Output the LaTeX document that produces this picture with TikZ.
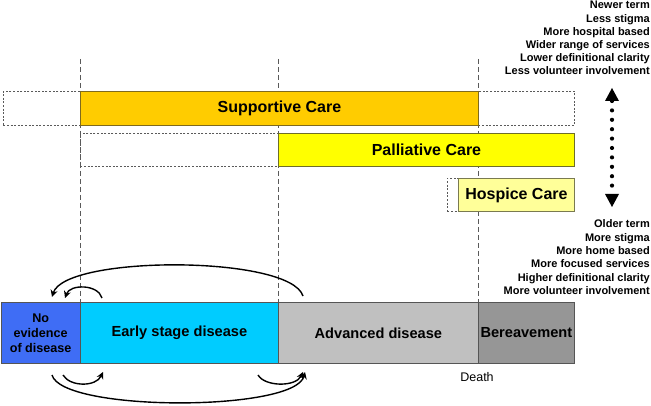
\documentclass[tikz,border=0pt]{standalone}
\usepackage{fontspec}
\setmainfont{Liberation Sans}
\usetikzlibrary{arrows.meta}
\definecolor{supfill}{HTML}{FFCC00}
\definecolor{supline}{HTML}{7F6A1E}
\definecolor{palfill}{HTML}{FFFF00}
\definecolor{palline}{HTML}{6E6E28}
\definecolor{hosfill}{HTML}{FFFF99}
\definecolor{hosline}{HTML}{7A7A50}
\definecolor{noevfill}{HTML}{3F6DF5}
\definecolor{earlyfill}{HTML}{00CCFF}
\definecolor{advfill}{HTML}{C0C0C0}
\definecolor{berfill}{HTML}{969696}
\definecolor{barline}{HTML}{555555}
\definecolor{guide}{HTML}{5A5A5A}
\tikzset{
  carebox/.style={draw=#1, line width=0.9pt, anchor=north west, inner sep=0pt,
    font=\fontsize{16}{18}\selectfont\bfseries},
  ghost/.style={draw=guide, line width=0.9pt, dash pattern=on 2pt off 1.6pt,
    anchor=north west, inner sep=0pt},
  barbox/.style={draw=barline, line width=0.8pt, anchor=north west, inner sep=0pt,
    minimum height=61pt, font=\fontsize{14.6}{16}\selectfont\bfseries},
  vline/.style={draw=guide, line width=0.9pt, dash pattern=on 5pt off 3pt},
  sidetxt/.style={anchor=base east, inner sep=0pt, font=\fontsize{11}{13}\selectfont\bfseries},
  cyc/.style={line width=1.4pt, -{Stealth[length=7pt,width=7pt]}},
  dotarrow/.style={line width=4.2pt, line cap=round, dash pattern=on 0pt off 9.4pt,
    {Triangle[width=14pt,length=13pt,line width=0pt]}-{Triangle[width=14pt,length=13pt,line width=0pt]}}
}
\begin{document}
\begin{tikzpicture}[x=1pt,y={(0pt,-1pt)}]
\useasboundingbox (0,0) rectangle (651,406);

% vertical guide lines
\coordinate (g1) at (80,59);
\coordinate (g2) at (278,59);
\coordinate (g3) at (478,59);
\coordinate (g1b) at (80,302);
\coordinate (g2b) at (278,302);
\coordinate (g3b) at (478,302);
\draw[vline] (g1) -- (g1b);
\draw[vline] (g2) -- (g2b);
\draw[vline] (g3) -- (g3b);

% care boxes
\node[ghost, minimum width=77pt, minimum height=34pt] (supL) at (3,91) {};
\node[ghost, minimum width=96pt, minimum height=34pt] (supR) at (478,91) {};
\node[carebox=supline, fill=supfill, minimum width=398pt, minimum height=34pt] (sup) at (80,91) {Supportive Care};

\node[ghost, minimum width=198pt, minimum height=33pt] (palL) at (80,133) {};
\node[carebox=palline, fill=palfill, minimum width=296pt, minimum height=33pt] (pal) at (278,133) {Palliative Care};

\node[ghost, minimum width=11pt, minimum height=33pt] (hosL) at (447,178) {};
\node[carebox=hosline, fill=hosfill, minimum width=116pt, minimum height=33pt] (hos) at (458,178) {Hospice Care};

% disease bar
\node[barbox, fill=noevfill, minimum width=79.5pt, align=center,
  font=\fontsize{12.6}{15}\selectfont\bfseries] (noev) at (0.5,302) {No\\evidence\\of disease};
\node[barbox, fill=earlyfill, minimum width=198pt] (early) at (80,302) {Early stage disease};
\node[barbox, fill=advfill, minimum width=200pt] (adv) at (278,302) {Advanced disease};
\node[barbox, fill=berfill, minimum width=96pt] (ber) at (478,302) {Bereavement};

\node[inner sep=0pt, font=\fontsize{12.5}{14}\selectfont] (death) at (477,377) {Death};

% cycle arrows
\coordinate (ta1) at (303,296);
\coordinate (ta2) at (52,297);
\coordinate (tb1) at (102,298);
\coordinate (tb2) at (65,298);
\coordinate (ba1) at (52,375);
\coordinate (ba2) at (305,372);
\coordinate (bb1) at (63,375);
\coordinate (bb2) at (103,372);
\coordinate (bc1) at (258,375);
\coordinate (bc2) at (303,372);
\draw[cyc] (ta1) .. controls (290,255) and (65,255) .. (ta2);
\draw[cyc] (tb1) .. controls (98,284) and (70,284) .. (tb2);
\draw[cyc] (ba1) .. controls (62,412) and (295,412) .. (ba2);
\draw[cyc] (bb1) .. controls (70,387) and (96,387) .. (bb2);
\draw[cyc] (bc1) .. controls (265,387) and (296,387) .. (bc2);

% dotted double arrow
\coordinate (arrtop) at (612,88);
\coordinate (arrbot) at (612,207);
\draw[dotarrow] (arrtop) -- (arrbot);

% side texts
\node[sidetxt] (u1) at (650,9) {Newer term};
\node[sidetxt] (u2) at (650,22.2) {Less stigma};
\node[sidetxt] (u3) at (650,35.4) {More hospital based};
\node[sidetxt] (u4) at (650,48.6) {Wider range of services};
\node[sidetxt] (u5) at (650,61.8) {Lower definitional clarity};
\node[sidetxt] (u6) at (650,75) {Less volunteer involvement};

\node[sidetxt] (l1) at (650,228) {Older term};
\node[sidetxt] (l2) at (650,241.3) {More stigma};
\node[sidetxt] (l3) at (650,254.6) {More home based};
\node[sidetxt] (l4) at (650,267.9) {More focused services};
\node[sidetxt] (l5) at (650,281.2) {Higher definitional clarity};
\node[sidetxt] (l6) at (650,294.5) {More volunteer involvement};
\end{tikzpicture}
\end{document}
